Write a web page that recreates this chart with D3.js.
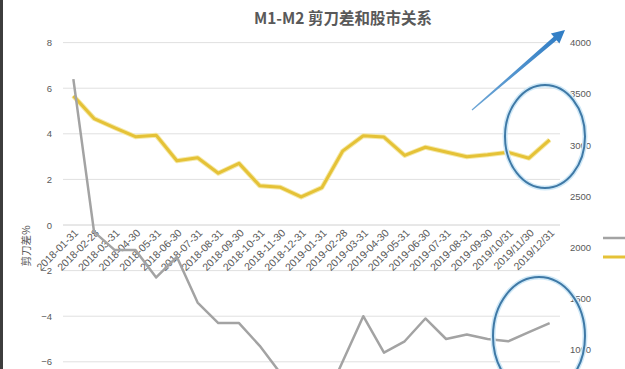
<!DOCTYPE html>
<html><head><meta charset="utf-8">
<script src="https://cdn.jsdelivr.net/npm/d3@7"></script>
<style>
html,body{margin:0;padding:0;background:#fff;overflow:hidden;}
svg{display:block;}
</style></head>
<body><svg id="c" width="625" height="369"></svg>
<script>
const categories = ["2018-01-31","2018-02-28","2018-03-31","2018-04-30","2018-05-31","2018-06-30","2018-07-31","2018-08-31","2018-09-30","2018-10-31","2018-11-30","2018-12-31","2019-01-31","2019-02-28","2019-03-31","2019-04-30","2019-05-31","2019-06-30","2019-07-31","2019-08-31","2019-09-30","2019/10/31","2019/11/30","2019/12/31"];
const scissorGap = [6.4,-0.3,-1.1,-1.1,-2.3,-1.4,-3.4,-4.3,-4.3,-5.3,-6.5,-6.6,-8.0,-6.0,-4.0,-5.6,-5.1,-4.1,-5.0,-4.8,-5.0,-5.1,-4.7,-4.3];
const stockIndex = [3480.8,3259.4,3168.9,3082.2,3095.5,2847.4,2876.4,2725.3,2821.4,2602.8,2588.2,2493.9,2584.6,2940.9,3090.8,3078.3,2898.7,2978.9,2932.5,2886.2,2905.2,2929.1,2872.0,3050.1];
const leftTicks = [-6,-4,-2,0,2,4,6,8];
const rightTicks = [1000,1500,2000,2500,3000,3500,4000];
const titleText = "M1-M2 剪刀差和股市关系";
const leftAxisTitle = "剪刀差%";

const svg = d3.select("#c");
const font = "'Liberation Sans', Arial, 'Noto Sans CJK SC', sans-serif";
const cjk = "'Noto Sans CJK SC', 'Liberation Sans', sans-serif";
const txt = "#595959";

const x = d3.scaleBand().domain(categories).range([63, 560]).padding(0);
const cx = d => x(d) + x.bandwidth()/2;
const yL = d3.scaleLinear().domain([-8, 8]).range([407.4, 42.6]);
const yR = d3.scaleLinear().domain([0, 4000]).range([452.3, 42.7]);

// left border
svg.append("rect").attr("x",0).attr("y",0).attr("width",3).attr("height",369).attr("fill","#3d3d3d");

// gridlines
svg.append("g").selectAll("line").data(leftTicks).join("line")
  .attr("x1",63).attr("x2",560)
  .attr("y1",d=>yL(d)).attr("y2",d=>yL(d))
  .attr("stroke",d=>d===0?"#d0d0d0":"#e0e0e0").attr("stroke-width",1);

// left axis
const gL = svg.append("g").attr("transform","translate(56,0)")
  .call(d3.axisLeft(yL).tickValues(leftTicks).tickSize(0).tickPadding(4).tickFormat(d3.format("d")));
gL.select(".domain").remove();
gL.selectAll("text").attr("fill",txt).style("font-family",font).style("font-size","9.5px");

// right axis
const gR = svg.append("g").attr("transform","translate(566,0)")
  .call(d3.axisRight(yR).tickValues(rightTicks).tickSize(0).tickPadding(4).tickFormat(d3.format("d")));
gR.select(".domain").remove();
gR.selectAll("text").attr("fill",txt).style("font-family",font).style("font-size","9.5px");

// category labels
svg.append("g").selectAll("text").data(categories).join("text")
  .attr("transform",d=>`translate(${cx(d)+3},${yL(0)+6}) rotate(-45)`)
  .attr("text-anchor","end").attr("dy","0.35em")
  .attr("fill",txt).style("font-family",font).style("font-size","10.5px")
  .text(d=>d);

// left axis title
svg.append("text").attr("transform","translate(26,246) rotate(-90)")
  .attr("text-anchor","middle").attr("dy","0.35em")
  .attr("fill",txt).style("font-family",cjk).style("font-size","10.5px").text(leftAxisTitle);

// title
svg.append("text").attr("x",343).attr("y",24).attr("text-anchor","middle")
  .attr("fill",txt).style("font-family",cjk).style("font-size","15.5px").style("font-weight","bold")
  .text(titleText);

// lines
const lineL = d3.line().x((d,i)=>cx(categories[i])).y(d=>yL(d));
const lineR = d3.line().x((d,i)=>cx(categories[i])).y(d=>yR(d));
svg.append("path").datum(stockIndex).attr("d",lineR).attr("fill","none")
  .attr("stroke","#f5e9a8").attr("stroke-width",5).attr("stroke-linejoin","round");
svg.append("path").datum(stockIndex).attr("d",lineR).attr("fill","none")
  .attr("stroke","#e5c237").attr("stroke-width",3).attr("stroke-linejoin","round");
svg.append("path").datum(scissorGap).attr("d",lineL).attr("fill","none")
  .attr("stroke","#a3a3a3").attr("stroke-width",2.5).attr("stroke-linejoin","round");

// legend (text cut off by frame)
svg.append("line").attr("x1",603).attr("x2",630).attr("y1",238).attr("y2",238)
  .attr("stroke","#a3a3a3").attr("stroke-width",2.5);
svg.append("line").attr("x1",603).attr("x2",630).attr("y1",257).attr("y2",257)
  .attr("stroke","#e5c237").attr("stroke-width",3);

// annotations: ellipses
const ells = [{cx:545,cy:136.5,rx:40,ry:51.5},{cx:539,cy:336,rx:46,ry:59}];
svg.append("g").selectAll("ellipse").data(ells).join("ellipse")
  .attr("cx",d=>d.cx).attr("cy",d=>d.cy).attr("rx",d=>d.rx).attr("ry",d=>d.ry)
  .attr("fill","none").attr("stroke","#cfe8f7").attr("stroke-width",5);
svg.append("g").selectAll("ellipse").data(ells).join("ellipse")
  .attr("cx",d=>d.cx).attr("cy",d=>d.cy).attr("rx",d=>d.rx).attr("ry",d=>d.ry)
  .attr("fill","none").attr("stroke","#3f79a6").attr("stroke-width",2);

// arrow
const tail=[472,110], tip=[565,30];
const dx=tip[0]-tail[0], dy=tip[1]-tail[1], L=Math.hypot(dx,dy);
const u=[dx/L,dy/L], n=[-u[1],u[0]];
const hl=13, B=[tip[0]-hl*u[0], tip[1]-hl*u[1]];
const P=(p,k)=>[p[0]+k*n[0],p[1]+k*n[1]];
const pts=[P(tail,0.6),P(B,2.2),P(B,6.5),tip,P(B,-6.5),P(B,-2.2),P(tail,-0.6)];
const defs=svg.append("defs");
const gr=defs.append("linearGradient").attr("id","ag").attr("gradientUnits","userSpaceOnUse")
  .attr("x1",tail[0]).attr("y1",tail[1]).attr("x2",tip[0]).attr("y2",tip[1]);
gr.append("stop").attr("offset","0").attr("stop-color","#6fa7d6");
gr.append("stop").attr("offset","1").attr("stop-color","#2f7cc4");
svg.append("polygon").attr("points",pts.map(p=>p.join(",")).join(" ")).attr("fill","url(#ag)");
</script></body></html>
